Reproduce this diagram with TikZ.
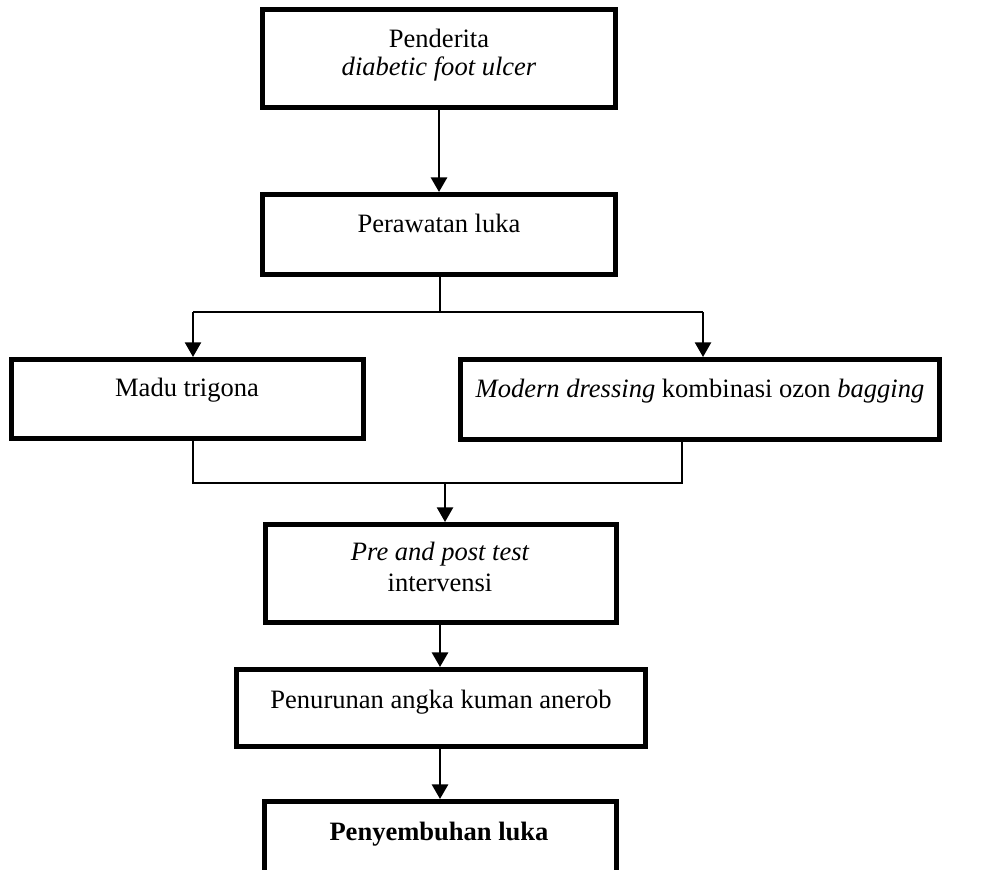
\documentclass[tikz,border=0pt]{standalone}
\usepackage{fontspec}
\setmainfont{Liberation Serif}
\usetikzlibrary{arrows.meta}
\tikzset{
  bx/.style={draw=black, line width=3.6pt, rectangle, inner sep=0pt},
  txt/.style={anchor=base, inner sep=0pt, align=center,
    font=\fontsize{19.9}{23}\selectfont},
  conn/.style={line width=1.5pt},
  arr/.style={line width=2.2pt, -{Triangle[width=12pt,length=11pt]}},
  arrs/.style={line width=1.8pt, -{Triangle[width=12pt,length=11pt]}}
}
\begin{document}
\begin{tikzpicture}[x=0.75pt,y=-0.75pt]
\clip (0,0) rectangle (987,869);
\useasboundingbox (0,0) rectangle (987,869);
% boxes (outer px size minus line width, in pt)
\node[bx, minimum width=264.9pt, minimum height=73.65pt] (b1) at (439,58.5) {};
\node[bx, minimum width=264.9pt, minimum height=60.15pt] (b2) at (439,234.5) {};
\node[bx, minimum width=264.15pt, minimum height=59.4pt] (b3) at (187.5,399) {};
\node[bx, minimum width=359.4pt, minimum height=60.15pt] (b4) at (700,399.5) {};
\node[bx, minimum width=263.4pt, minimum height=73.65pt] (b5) at (441,573.5) {};
\node[bx, minimum width=306.9pt, minimum height=57.9pt] (b6) at (441,708) {};
\node[bx, minimum width=264.15pt, minimum height=78.9pt] (b7) at (440.5,854) {};
% texts
\node[txt] (t1a) at (439,47) {Penderita};
\node[txt] (t1b) at (439,75) {\itshape diabetic foot ulcer};
\node[txt] (t2) at (439,232) {Perawatan luka};
\node[txt] (t3) at (187,396) {Madu trigona};
\node[txt] (t4) at (700,397) {\textit{Modern dressing} kombinasi ozon \textit{bagging}};
\node[txt] (t5a) at (440,560) {\itshape Pre and post test};
\node[txt] (t5b) at (440,591) {intervensi};
\node[txt] (t6) at (441,708) {Penurunan angka kuman anerob};
\node[txt] (t7) at (439,840) {\bfseries Penyembuhan luka};
% connectors
\coordinate (j1) at (440,312);
\coordinate (jl) at (193,312);
\coordinate (jr) at (703,312);
\coordinate (kl) at (193,483);
\coordinate (kr) at (682,483);
\coordinate (km) at (445,483);
\draw[arr] (b1.south) -- (b2.north);
\draw[conn] (b2.south -| j1) -- (j1);
\draw[conn] (jl) -- (jr);
\draw[arrs] (jl) -- (jl |- b3.north);
\draw[arrs] (jr) -- (jr |- b4.north);
\draw[conn] (kl |- b3.south) -- (kl) -- (kr) -- (kr |- b4.south);
\draw[arrs] (km) -- (km |- b5.north);
\draw[arr] (b5.south -| j1) -- (j1 |- b6.north);
\draw[arr] (b6.south -| j1) -- (j1 |- b7.north);
\end{tikzpicture}
\end{document}
